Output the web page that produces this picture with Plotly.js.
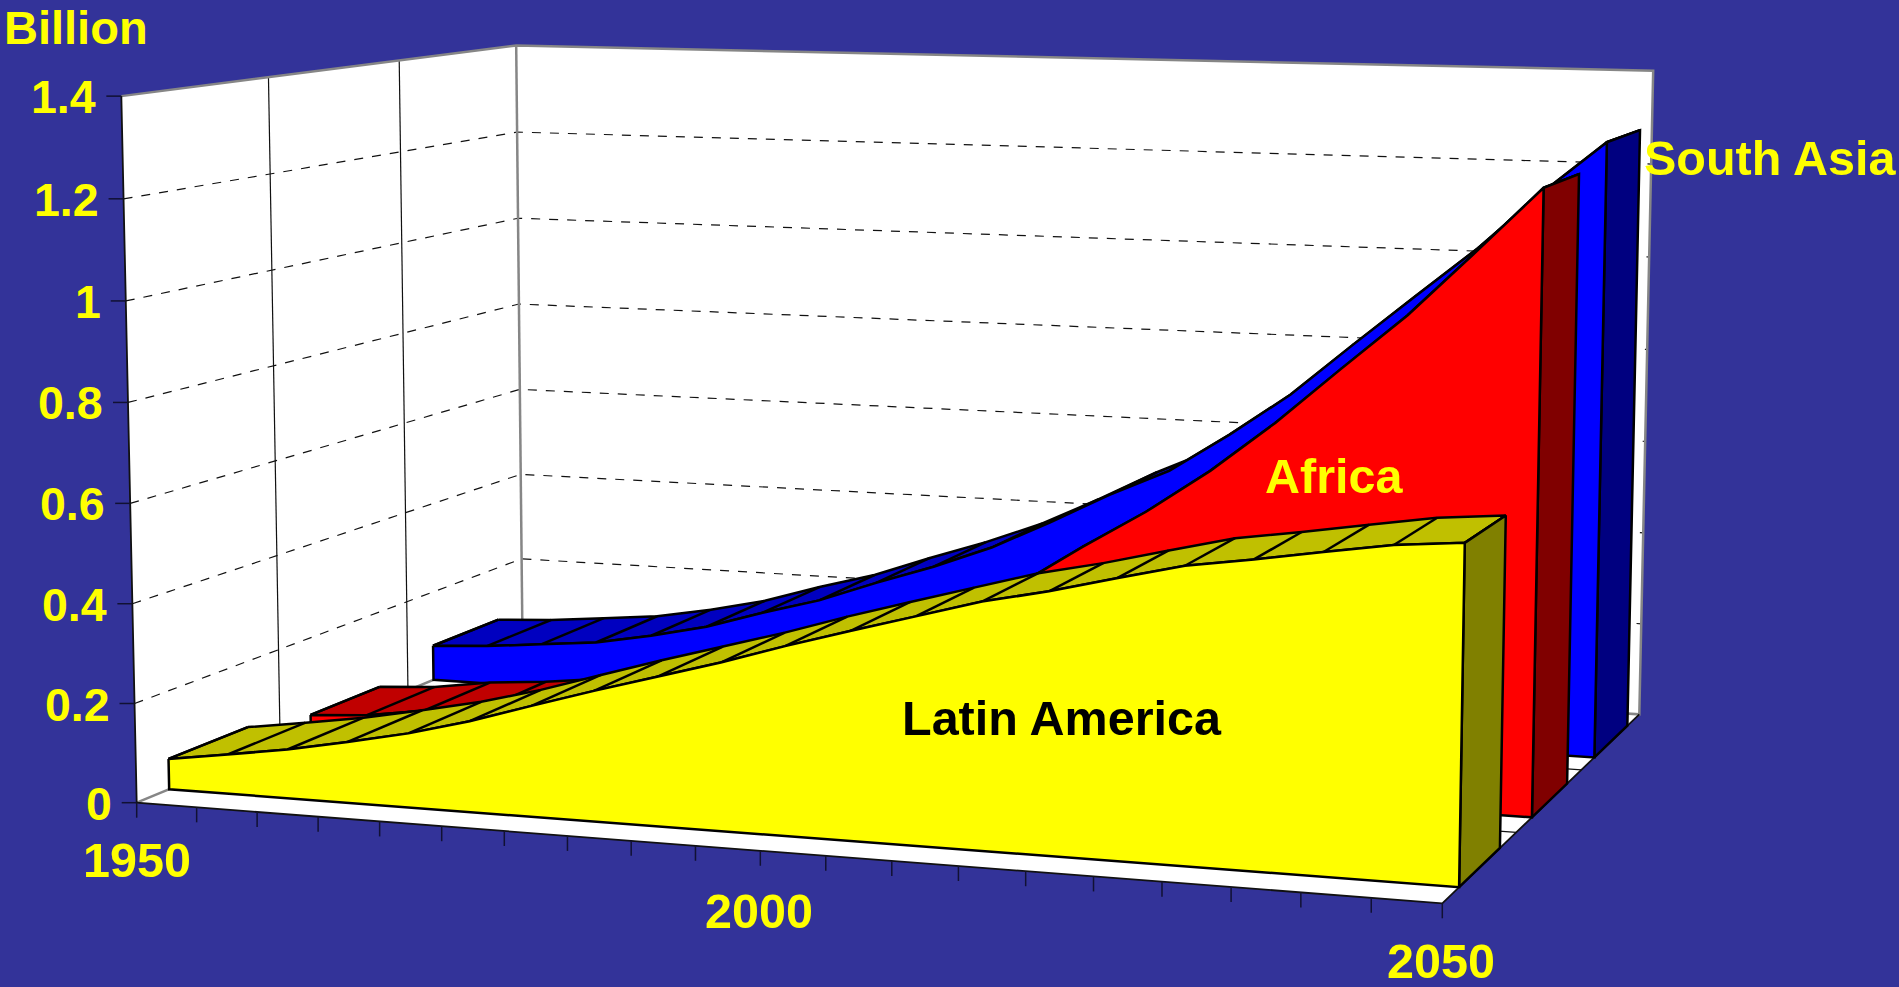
<!DOCTYPE html>
<html>
<head>
<meta charset="utf-8">
<script src="https://cdn.plot.ly/plotly-3.0.1.min.js"></script>
<style>html,body{margin:0;padding:0;background:#333399;overflow:hidden}#chart{width:1899px;height:987px}</style>
</head>
<body>
<div id="chart"></div>
<script>
// ---- data ----
var years = [1950,1955,1960,1965,1970,1975,1980,1985,1990,1995,2000,2005,2010,2015,2020,2025,2030,2035,2040,2045,2050];
var latinAmerica = [.062,.080,.099,.123,.149,.182,.221,.259,.295,.331,.371,.408,.444,.480,.507,.539,.570,.589,.610,.630,.641];
var africa = [.034,.042,.060,.070,.085,.105,.130,.160,.195,.235,.282,.338,.405,.488,.566,.655,.757,.870,.981,1.108,1.238];
var southAsia = [.078,.085,.097,.109,.132,.160,.199,.234,.280,.323,.372,.434,.500,.558,.642,.733,.843,.950,1.056,1.175,1.282];
var valueTicks = [0,0.2,0.4,0.6,0.8,1,1.2,1.4];
var valueTickLabels = ['0','0.2','0.4','0.6','0.8','1','1.2','1.4'];
var seriesNames = ['South Asia','Africa','Latin America'];

// ---- the chart's 3-D box: where its corners fall on the page ----
var A=[136.7,802.7], B=[1442.3,903.3], C=[522.5,643], D=[1639.3,714.3];
var W_V=-0.02, E_V=[-17.8,-708.5];
var VALUE_MAX=1.4;
var dx1=B[0]-D[0],dy1=B[1]-D[1],dx2=C[0]-D[0],dy2=C[1]-D[1],sx=A[0]-B[0]+D[0]-C[0],sy=A[1]-B[1]+D[1]-C[1];
var det=dx1*dy2-dx2*dy1, G=(sx*dy2-dx2*sy)/det, H=(dx1*sy-sx*dy1)/det;
function project(year,depth,value){
  var u=(year-1950)/100, v=value/VALUE_MAX;
  var w=1+G*u+H*depth+W_V*v;
  return [
    ((B[0]*(1+G)-A[0])*u+(C[0]*(1+H)-A[0])*depth+E_V[0]*v+A[0])/w,
    ((B[1]*(1+G)-A[1])*u+(C[1]*(1+H)-A[1])*depth+E_V[1]*v+A[1])/w
  ];
}

var traces=[];
function poly(pts,fill,lineColor,lineWidth){
  var p=pts.concat([pts[0]]);
  traces.push({type:'scatter',mode:'lines',x:p.map(function(q){return q[0]}),y:p.map(function(q){return q[1]}),
    fill:'toself',fillcolor:fill,line:{color:lineColor||fill,width:lineWidth===undefined?2:lineWidth,simplify:false},hoverinfo:'skip'});
}
function lines(segs,color,width,dash){
  var x=[],y=[];
  segs.forEach(function(s){s.forEach(function(q){x.push(q[0]);y.push(q[1])});x.push(null);y.push(null)});
  traces.push({type:'scatter',mode:'lines',x:x,y:y,line:{color:color,width:width,dash:dash||'solid',simplify:false},hoverinfo:'skip',connectgaps:false});
}
var Y0=years[0],Y1=years[years.length-1];

// walls and floor
poly([project(Y0,0,0),project(Y0,1,0),project(Y0,1,VALUE_MAX),project(Y0,0,VALUE_MAX)],'#ffffff','#ffffff',0);
poly([project(Y0,1,0),project(Y1,1,0),project(Y1,1,VALUE_MAX),project(Y0,1,VALUE_MAX)],'#ffffff','#ffffff',0);
poly([project(Y0,0,0),project(Y1,0,0),project(Y1,1,0),project(Y0,1,0)],'#ffffff','#ffffff',0);

// gridlines
var gridSegs=[];
valueTicks.forEach(function(t){ if(t>0&&t<VALUE_MAX) gridSegs.push([project(Y0,0,t),project(Y0,1,t),project(Y1,1,t)]); });
lines(gridSegs,'#111111',1.2,'9px,9px');
lines([[project(Y0,1/3,0),project(Y0,1/3,VALUE_MAX)],[project(Y0,2/3,0),project(Y0,2/3,VALUE_MAX)]],'#111111',1.2);
lines([[project(Y0,1/3,0),project(Y1,1/3,0)],[project(Y0,2/3,0),project(Y1,2/3,0)]],'#111111',1.2);
lines([[project(Y0,0,VALUE_MAX),project(Y0,1,VALUE_MAX),project(Y1,1,VALUE_MAX),project(Y1,1,0),project(Y0,1,0),project(Y0,0,0)],
       [project(Y0,1,0),project(Y0,1,VALUE_MAX)]],'#868686',2.5);
lines([[project(Y0,0,VALUE_MAX),project(Y0,0,0),project(Y1,0,0),project(Y1,1,0)]],'#111111',1.8);

// tick marks
var tickSegs=[];
years.forEach(function(y){var p=project(y,0,0);tickSegs.push([p,[p[0],p[1]+15]]);});
valueTicks.forEach(function(t){var p=project(Y0,0,t);tickSegs.push([[p[0]-15,p[1]],p]);});
lines(tickSegs,'#111133',1.5);

// one series as a solid ribbon: top strip, then end face, then front face
function ribbon(values,d1,d2,front,top,side){
  var n=years.length-1;
  var topPts=[];
  years.forEach(function(y,i){topPts.push(project(y,d2,values[i]))});
  for(var i=n;i>=0;i--) topPts.push(project(years[i],d1,values[i]));
  poly(topPts,top,'#000000',2.5);
  lines(years.map(function(y,i){return [project(y,d1,values[i]),project(y,d2,values[i])]}),'#000000',2.5);
  poly([project(Y1,d1,0),project(Y1,d2,0),project(Y1,d2,values[n]),project(Y1,d1,values[n])],side,'#000000',2.5);
  var f=years.map(function(y,i){return project(y,d1,values[i])});
  f.push(project(Y1,d1,0));f.push(project(Y0,d1,0));
  poly(f,front,'#000000',2.5);
}
ribbon(southAsia,0.738,0.928,'#0000ff','#0000c0','#000080');
ribbon(africa,0.41,0.59,'#ff0000','#c00000','#800000');
ribbon(latinAmerica,0.072,0.256,'#ffff00','#c0c000','#808000');

// text
var ann=[];
function label(text,p,xanchor,color,size){
  ann.push({x:p[0],y:p[1],xref:'x',yref:'y',text:'<b>'+text+'</b>',showarrow:false,xanchor:xanchor,yanchor:'middle',
    font:{family:'"Liberation Sans",Arial,sans-serif',size:size||48.5,color:color||'#ffff00'}});
}
valueTicks.forEach(function(t,i){var p=project(Y0,0,t);label(valueTickLabels[i],[p[0]-23,p[1]+1],'right','#ffff00',46.5);});
var y50=project(1950,0,0),y00=project(2000,0,0),y2050=project(2050,0,0);
label('1950',[y50[0],y50[1]+57],'center');
label('2000',[y00[0]-1,y00[1]+60],'center');
label('2050',[y2050[0]-1,y2050[1]+58],'center');
label('Billion',[2,27],'left','#ffff00',47);
label(seriesNames[0],[1642,158],'left');
label(seriesNames[1],[1333.5,476],'center');
label(seriesNames[2],[1062,718],'center','#000000');

Plotly.newPlot('chart',traces,{
  width:1899,height:987,margin:{l:0,r:0,t:0,b:0,pad:0},paper_bgcolor:'#333399',plot_bgcolor:'rgba(0,0,0,0)',showlegend:false,
  xaxis:{range:[0,1899],visible:false,fixedrange:true},
  yaxis:{range:[987,0],visible:false,fixedrange:true},
  annotations:ann,hovermode:false
},{displayModeBar:false,staticPlot:true});
</script>
</body>
</html>
